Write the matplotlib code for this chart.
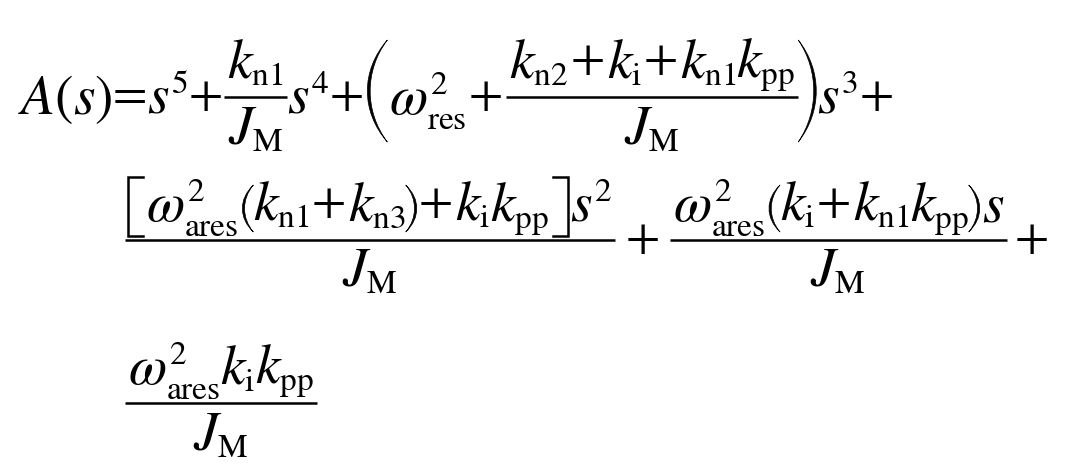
import matplotlib
matplotlib.use("Agg")
import matplotlib.pyplot as plt
from matplotlib.path import Path
from matplotlib.patches import PathPatch

try:
    import matplotlib._mathtext as _mt
    _mt.SHRINK_FACTOR = 0.6   # smaller sub/superscripts, like the reference
except Exception:
    pass

plt.rcParams['mathtext.fontset'] = 'stix'
plt.rcParams['font.family'] = 'STIXGeneral'

W, H = 1068, 467
FS = 40      # letters
OFS = 36     # + and = signs

# symbols used in the expression
JM = r"$J_{\mathrm{M}}$"
KN1 = r"$k_{\mathrm{n1}}$"
KN2 = r"$k_{\mathrm{n2}}$"
KN3 = r"$k_{\mathrm{n3}}$"
KI = r"$k_{\mathrm{i}}$"
KPP = r"$k_{\mathrm{pp}}$"
WRES = r"$\omega_{\mathrm{res}}^{2}$"
WARES = r"$\omega_{\mathrm{ares}}^{2}$"

# items: ('m', mathtext) ('o', operator) ('g', gap px)
#        ('d', kind, width, top, bottom)  delimiter, top/bottom relative to bar
#        ('f', numerator items, denominator)
line1 = [('m', r"$A(s)$"), ('o', '='), ('m', r"$s^{5}$"), ('g', 1), ('o', '+'),
         ('g', 1), ('f', [('m', KN1)], JM), ('m', r"$s^{4}$"), ('g', 1), ('o', '+'), ('g', 3),
         ('d', '(', 20, -57, 45), ('g', 2), ('m', WRES), ('g', 2), ('o', '+'), ('g', 3),
         ('f', [('m', KN2), ('g', 2), ('o', '+'), ('g', 2), ('m', KI), ('g', 2), ('o', '+'),
                ('g', 2), ('m', KN1), ('m', KPP)], JM),
         ('d', ')', 18, -57, 45), ('g', 1), ('m', r"$s^{3}$"), ('g', 1), ('o', '+')]

line2 = [('f', [('d', '[', 15, -63, -4), ('g', 3), ('m', WARES), ('g', 4),
                ('d', '(', 11, -55, -8), ('m', KN1), ('g', 2), ('o', '+'), ('g', 2), ('m', KN3),
                ('d', ')', 11, -55, -8), ('g', 2), ('o', '+'), ('g', 2), ('m', KI), ('m', KPP),
                ('g', 4), ('d', ']', 15, -63, -4), ('g', 2), ('m', r"$s^{2}$")], JM),
         ('g', 10), ('o', '+'), ('g', 10),
         ('f', [('m', WARES), ('g', 4), ('d', '(', 11, -55, -8), ('m', KI), ('g', 2),
                ('o', '+'), ('g', 2), ('m', KN1), ('m', KPP), ('d', ')', 11, -55, -8),
                ('g', 2), ('m', r"$s$")], JM),
         ('g', 8), ('o', '+')]

line3 = [('f', [('m', WARES), ('m', KI), ('m', KPP)], JM)]

lines = [line1, line2, line3]
x_start = [18, 125, 125]
bars = [97, 240, 403]       # y of the fraction bars / math axis

NUM_UP = 19     # numerator baseline above the bar
DEN_DOWN = 47   # denominator baseline below the bar
AXIS = 17       # main baseline below the bar
PAD = 3         # bar overhang each side

fig = plt.figure(figsize=(W / 100, H / 100), dpi=100)
ax = fig.add_axes([0, 0, 1, 1])
ax.set_xlim(0, W)
ax.set_ylim(H, 0)
ax.axis('off')
renderer = fig.canvas.get_renderer()


def put(x, y, s, ha='left', draw=True, size=FS):
    t = ax.text(x, y, s, fontsize=size, ha=ha, va='baseline', color='black')
    w = t.get_window_extent(renderer).width
    if not draw:
        t.remove()
    return w


def paren(kind, xl, xr, top, bot):
    h = bot - top
    th = max(2.2, (xr - xl) * 0.14)
    if kind == '(':
        xe, xm, xin = xr, xl, xl + th
    else:
        xe, xm, xin = xl, xr, xr - th
    c_out = (xm - 0.25 * xe) / 0.75
    c_in = (xin - 0.25 * xe) / 0.75
    verts = [(xe, top), (c_out, top + 0.3 * h), (c_out, bot - 0.3 * h), (xe, bot),
             (c_in, bot - 0.3 * h), (c_in, top + 0.3 * h), (xe, top), (xe, top)]
    codes = [Path.MOVETO, Path.CURVE4, Path.CURVE4, Path.CURVE4,
             Path.CURVE4, Path.CURVE4, Path.CURVE4, Path.CLOSEPOLY]
    ax.add_patch(PathPatch(Path(verts, codes), facecolor='black', edgecolor='black', lw=0.5))


def bracket(kind, xl, xr, top, bot):
    xs = [xr, xl, xl, xr] if kind == '[' else [xl, xr, xr, xl]
    ax.plot(xs, [top, top, bot, bot], color='black', lw=1.8, solid_joinstyle='miter')


def layout(items, x, base, bar, draw=True):
    """place items left to right from x on baseline base; delimiters sit relative to bar"""
    for it in items:
        kind = it[0]
        if kind == 'g':
            x += it[1]
        elif kind == 'm':
            x += put(x, base, it[1], draw=draw)
        elif kind == 'o':
            x += put(x, base - AXIS + OFS * 0.33, it[1], draw=draw, size=OFS)
        elif kind == 'd':
            _, k, w, top, bot = it
            if draw:
                if k in '()':
                    paren(k, x, x + w, bar + top, bar + bot)
                else:
                    bracket(k, x, x + w, bar + top, bar + bot)
            x += w
        elif kind == 'f':
            _, num, den = it
            wn = layout(num, 0, 0, 0, draw=False)
            wd = put(0, 0, den, draw=False)
            wf = max(wn, wd) + 2 * PAD
            if draw:
                ax.plot([x, x + wf], [bar, bar], color='black', lw=1.8, solid_capstyle='butt')
                layout(num, x + (wf - wn) / 2, bar - NUM_UP, bar)
                put(x + wf / 2, bar + DEN_DOWN, den, ha='center')
            x += wf
    return x


for items, x0, bar in zip(lines, x_start, bars):
    layout(items, x0, bar + AXIS, bar)

fig.savefig('out.png', dpi=100, facecolor='white')
